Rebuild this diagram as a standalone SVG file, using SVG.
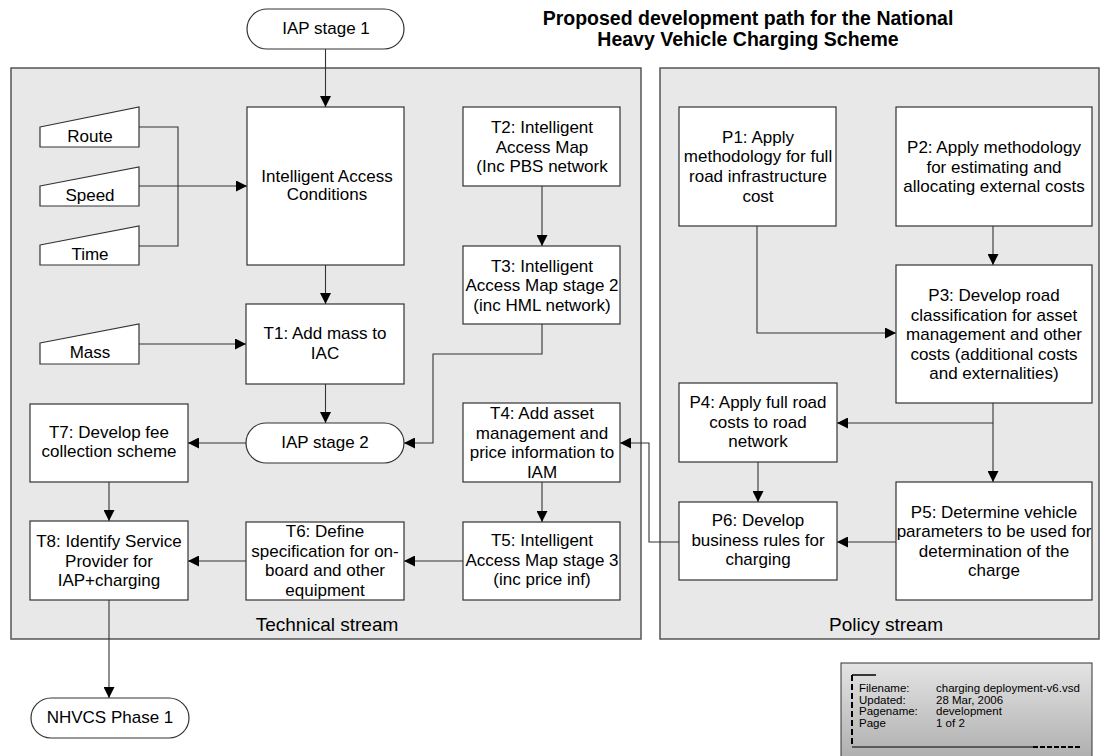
<svg xmlns="http://www.w3.org/2000/svg" width="1104" height="756" viewBox="0 0 1104 756">
<defs>
<style>
text{font-family:"Liberation Sans",Arial,sans-serif;fill:#000}
.t{font-size:17px;text-anchor:middle}
.lbl{font-size:19px;text-anchor:middle}
.title{font-size:19.5px;font-weight:bold;text-anchor:middle}
.small{font-size:11.5px}
.panel{fill:#e8e8e8;stroke:#555;stroke-width:1.5}
.box{fill:#fff;stroke:#333;stroke-width:1.2}
.c{fill:none;stroke:#333;stroke-width:1.1}
.a{marker-end:url(#arr)}
</style>
<marker id="arr" markerUnits="userSpaceOnUse" markerWidth="11" markerHeight="11" refX="11" refY="5.5" orient="auto">
<path d="M0,0 L11,5.5 L0,11 z" fill="#000"/>
</marker>
<linearGradient id="tb" x1="0" y1="0" x2="0" y2="1">
<stop offset="0" stop-color="#e4e4e4"/>
<stop offset="1" stop-color="#acacac"/>
</linearGradient>
</defs>

<g id="title">
<text class="title" x="748" y="24.5">Proposed development path for the National</text>
<text class="title" x="748" y="46">Heavy Vehicle Charging Scheme</text>
</g>

<g id="technical-stream">
<rect class="panel" x="11" y="68" width="630" height="571"/>
<text class="lbl" x="327" y="631">Technical stream</text>
</g>
<g id="policy-stream">
<rect class="panel" x="660" y="68" width="439" height="571"/>
<text class="lbl" x="886" y="631">Policy stream</text>
</g>

<g id="connectors">
<path class="c a" d="M325.5,49 V107"/>
<path class="c" d="M139,127 H178 V246 H139"/>
<path class="c a" d="M139,186 H247"/>
<path class="c a" d="M325.5,265 V304"/>
<path class="c a" d="M139,344 H246"/>
<path class="c a" d="M325.5,384 V423"/>
<path class="c a" d="M246,443 H188"/>
<path class="c a" d="M109,482 V521"/>
<path class="c a" d="M246,561 H188"/>
<path class="c a" d="M463,561 H404"/>
<path class="c a" d="M542,482 V522"/>
<path class="c a" d="M542,186 V246"/>
<path class="c a" d="M542,324 V354 H433 V443 H404"/>
<path class="c a" d="M109,600 V698"/>
<path class="c a" d="M757,226 V333 H896"/>
<path class="c a" d="M993,226 V265"/>
<path class="c a" d="M993,403 V482"/>
<path class="c a" d="M993,423 H837"/>
<path class="c a" d="M758,462 V502"/>
<path class="c a" d="M896,542 H837"/>
<path class="c a" d="M679,542 H649 V443 H620"/>
</g>

<g id="iap-stage-1">
<rect class="box" x="247" y="9" width="157" height="40" rx="20"/>
<text class="t" x="326" y="34">IAP stage 1</text>
</g>
<g id="iac">
<rect class="box" x="247" y="107" width="157" height="158"/>
<text class="t" x="327" y="182">Intelligent Access</text>
<text class="t" x="327" y="200">Conditions</text>
</g>
<g id="route">
<polygon class="box" points="40,127 139,107 139,147 40,147"/>
<text class="t" x="90" y="142">Route</text>
</g>
<g id="speed">
<polygon class="box" points="40,186 139,167 139,206 40,206"/>
<text class="t" x="90" y="201">Speed</text>
</g>
<g id="time">
<polygon class="box" points="40,245 139,226 139,265 40,265"/>
<text class="t" x="90" y="260">Time</text>
</g>
<g id="mass">
<polygon class="box" points="40,343 139,324 139,364 40,364"/>
<text class="t" x="90" y="358">Mass</text>
</g>
<g id="t1">
<rect class="box" x="246" y="304" width="158" height="80"/>
<text class="t" x="325" y="339">T1: Add mass to</text>
<text class="t" x="325" y="359">IAC</text>
</g>
<g id="iap-stage-2">
<rect class="box" x="246" y="423" width="158" height="40" rx="20"/>
<text class="t" x="325" y="448">IAP stage 2</text>
</g>
<g id="t2">
<rect class="box" x="463" y="107" width="157" height="79"/>
<text class="t" x="542" y="133">T2: Intelligent</text>
<text class="t" x="542" y="152.5">Access Map</text>
<text class="t" x="542" y="172">(Inc PBS network</text>
</g>
<g id="t3">
<rect class="box" x="463" y="246" width="157" height="78"/>
<text class="t" x="542" y="271.5">T3: Intelligent</text>
<text class="t" x="542" y="291">Access Map stage 2</text>
<text class="t" x="542" y="310.5">(inc HML network)</text>
</g>
<g id="t4">
<rect class="box" x="463" y="403" width="157" height="79"/>
<text class="t" x="542" y="419">T4: Add asset</text>
<text class="t" x="542" y="438.5">management and</text>
<text class="t" x="542" y="458">price information to</text>
<text class="t" x="542" y="477.5">IAM</text>
</g>
<g id="t5">
<rect class="box" x="463" y="522" width="157" height="78"/>
<text class="t" x="542" y="546">T5: Intelligent</text>
<text class="t" x="542" y="565.5">Access Map stage 3</text>
<text class="t" x="542" y="585">(inc price inf)</text>
</g>
<g id="t6">
<rect class="box" x="246" y="522" width="158" height="78"/>
<text class="t" x="325" y="537">T6: Define</text>
<text class="t" x="325" y="556.5">specification for on-</text>
<text class="t" x="325" y="576">board and other</text>
<text class="t" x="325" y="595.5">equipment</text>
</g>
<g id="t7">
<rect class="box" x="30" y="404" width="158" height="78"/>
<text class="t" x="109" y="437.5">T7: Develop fee</text>
<text class="t" x="109" y="457">collection scheme</text>
</g>
<g id="t8">
<rect class="box" x="30" y="521" width="158" height="79"/>
<text class="t" x="109" y="547">T8: Identify Service</text>
<text class="t" x="109" y="566.5">Provider for</text>
<text class="t" x="109" y="586">IAP+charging</text>
</g>
<g id="nhvcs-phase-1">
<rect class="box" x="31" y="698" width="158" height="40" rx="20"/>
<text class="t" x="110" y="723">NHVCS Phase 1</text>
</g>
<g id="p1">
<rect class="box" x="679" y="107" width="157" height="119"/>
<text class="t" x="758" y="142.5">P1: Apply</text>
<text class="t" x="758" y="162">methodology for full</text>
<text class="t" x="758" y="181.5">road infrastructure</text>
<text class="t" x="758" y="201.5">cost</text>
</g>
<g id="p2">
<rect class="box" x="896" y="107" width="196" height="119"/>
<text class="t" x="994" y="153">P2: Apply methodology</text>
<text class="t" x="994" y="172.5">for estimating and</text>
<text class="t" x="994" y="192">allocating external costs</text>
</g>
<g id="p3">
<rect class="box" x="896" y="265" width="196" height="138"/>
<text class="t" x="994" y="301">P3: Develop road</text>
<text class="t" x="994" y="320.5">classification for asset</text>
<text class="t" x="994" y="340">management and other</text>
<text class="t" x="994" y="359.5">costs (additional costs</text>
<text class="t" x="994" y="379">and externalities)</text>
</g>
<g id="p4">
<rect class="box" x="679" y="383" width="158" height="79"/>
<text class="t" x="758" y="408">P4: Apply full road</text>
<text class="t" x="758" y="427.5">costs to road</text>
<text class="t" x="758" y="447">network</text>
</g>
<g id="p5">
<rect class="box" x="896" y="482" width="196" height="118"/>
<text class="t" x="994" y="517.5">P5: Determine vehicle</text>
<text class="t" x="994" y="537">parameters to be used for</text>
<text class="t" x="994" y="556.5">determination of the</text>
<text class="t" x="994" y="576">charge</text>
</g>
<g id="p6">
<rect class="box" x="679" y="502" width="158" height="78"/>
<text class="t" x="758" y="526">P6: Develop</text>
<text class="t" x="758" y="545.5">business rules for</text>
<text class="t" x="758" y="565">charging</text>
</g>

<g id="title-block">
<rect x="841" y="663" width="251" height="100" fill="url(#tb)" stroke="#333" stroke-width="1"/>
<path d="M852,675 H876" fill="none" stroke="#000" stroke-width="1.5"/>
<path d="M852,675 V747" fill="none" stroke="#000" stroke-width="2" stroke-dasharray="6,3"/>
<path d="M852,747 H1033" fill="none" stroke="#000" stroke-width="1.2"/>
<path d="M1033,747 H1082" fill="none" stroke="#000" stroke-width="2.2" stroke-dasharray="5,2"/>
<text class="small" x="859" y="692">Filename:</text>
<text class="small" x="859" y="703.5">Updated:</text>
<text class="small" x="859" y="715">Pagename:</text>
<text class="small" x="859" y="726.5">Page</text>
<text class="small" x="936" y="692">charging deployment-v6.vsd</text>
<text class="small" x="936" y="703.5">28 Mar, 2006</text>
<text class="small" x="936" y="715">development</text>
<text class="small" x="936" y="726.5">1 of 2</text>
</g>
</svg>
